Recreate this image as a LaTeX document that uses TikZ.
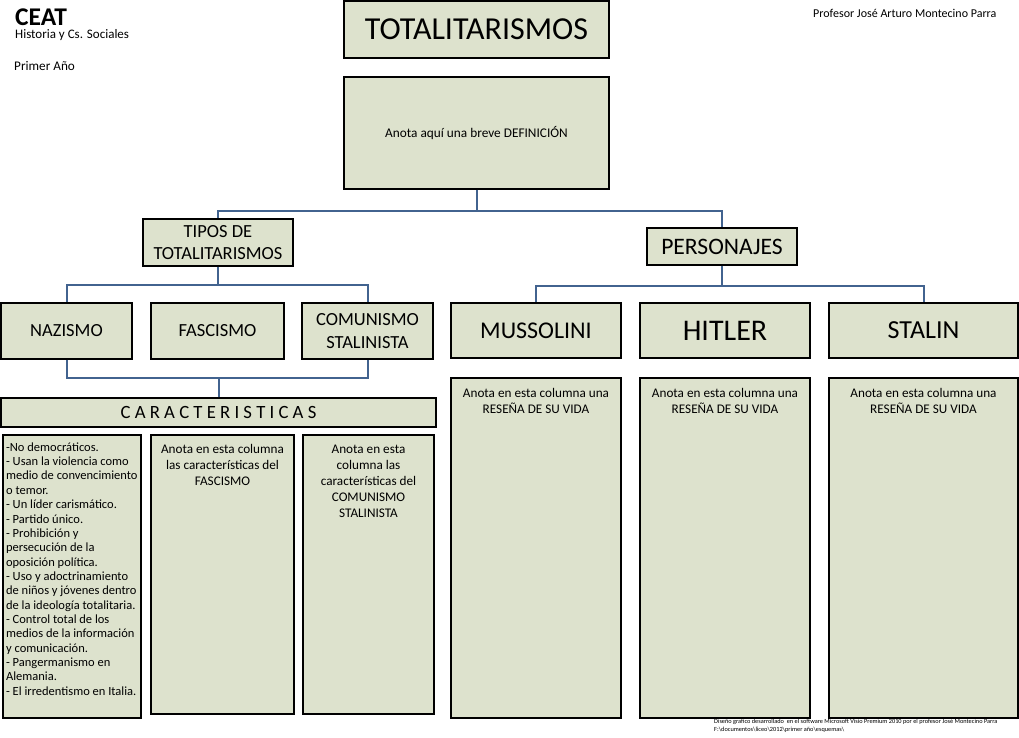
\documentclass[tikz,border=0pt]{standalone}
\usepackage{fontspec}
\setmainfont{Carlito}
\definecolor{boxfill}{RGB}{221,226,205}
\definecolor{connblue}{RGB}{66,99,143}
\newcommand\fsz[1]{\fontsize{#1}{\fpeval{1.22*#1}}\selectfont}
\newcommand\listfnt{\fontsize{12.5}{14.35}\selectfont\setlength{\lineskiplimit}{-100pt}\setlength{\lineskip}{0pt}}
\begin{document}
\begin{tikzpicture}[x=1pt,y=-1pt,
  box/.style={draw=black, line width=1.2pt, fill=boxfill, inner sep=0pt, align=center},
  conn/.style={draw=connblue, line width=2pt},
  coltext/.style={anchor=north, inner sep=0pt, align=center, font=\fsz{13.2}},
  plain/.style={anchor=base west, inner sep=0pt}]
\useasboundingbox (0,0) rectangle (1019,737);

% header texts
\node[plain, font=\bfseries\fsz{25.5}] (ceat) at (15,25.5) {CEAT};
\node[plain, font=\fsz{13}] (hist) at (15,38.5) {Historia y Cs. Sociales};
\node[plain, font=\fsz{13.2}] (prim) at (14,70) {Primer Año};
\node[plain, font=\fsz{12}] (prof) at (813,17) {Profesor José Arturo Montecino Parra};

% main boxes
\node[box, minimum width=265pt, minimum height=57pt, font=\fsz{32}] (title) at (476.5,29.5) {TOTALITARISMOS};
\node[box, minimum width=265pt, minimum height=112pt, font=\fsz{13.3}] (def) at (476.5,133) {Anota aquí una breve DEFINICIÓN};
\node[box, minimum width=150pt, minimum height=47pt, font=\fsz{18.5}] (tipos) at (218,242.5) {TIPOS DE\\TOTALITARISMOS};
\node[box, minimum width=150pt, minimum height=37pt, font=\fsz{23.6}] (pers) at (722,246.5) {PERSONAJES};

\node[box, minimum width=131pt, minimum height=56pt, font=\fsz{18.5}] (naz) at (66.5,331) {NAZISMO};
\node[box, minimum width=133pt, minimum height=56pt, font=\fsz{18.5}] (fas) at (217.5,331) {FASCISMO};
\node[box, minimum width=131pt, minimum height=56pt, font=\fsz{18.5}] (com) at (367.5,331) {COMUNISMO\\STALINISTA};
\node[box, minimum width=435pt, minimum height=29pt, font=\fsz{18.7}] (car) at (218.5,412.5) {C A R A C T E R I S T I C A S};

\node[box, minimum width=170pt, minimum height=55pt, font=\fsz{24}] (mus) at (536,330.5) {MUSSOLINI};
\node[box, minimum width=170pt, minimum height=55pt, font=\fsz{30}] (hit) at (725,330.5) {HITLER};
\node[box, minimum width=189pt, minimum height=55pt, font=\fsz{26}] (sta) at (923.5,330.5) {STALIN};

% columns
\node[box, minimum width=138pt, minimum height=283pt] (list) at (72,576.5) {};
\node[box, minimum width=143pt, minimum height=279pt] (fcol) at (222.5,574.5) {};
\node[box, minimum width=131pt, minimum height=279pt] (ccol) at (368.5,574.5) {};
\node[box, minimum width=170pt, minimum height=340pt] (col1) at (536,548) {};
\node[box, minimum width=170pt, minimum height=340pt] (col2) at (725,548) {};
\node[box, minimum width=189pt, minimum height=340pt] (col3) at (923.5,548) {};

\node[anchor=north west, inner sep=0pt, align=left, font=\listfnt] (listtxt) at ([xshift=3.5pt,yshift=-8pt]list.north west) {-No democráticos.\\
- Usan la violencia como\\
medio de convencimiento\\
o temor.\\
- Un líder carismático.\\
- Partido único.\\
- Prohibición y\\
persecución de la\\
oposición política.\\
- Uso y adoctrinamiento\\
de niños y jóvenes dentro\\
de la ideología totalitaria.\\
- Control total de los\\
medios de la información\\
y comunicación.\\
- Pangermanismo en\\
Alemania.\\
- El irredentismo en Italia.};
\node[coltext] (ftxt) at ([yshift=-10pt]fcol.north) {Anota en esta columna\\las características del\\FASCISMO};
\node[coltext] (ctxt) at ([yshift=-10pt]ccol.north) {Anota en esta\\columna las\\características del\\COMUNISMO\\STALINISTA};
\node[coltext] (t1) at ([yshift=-10.5pt]col1.north) {Anota en esta columna una\\RESEÑA DE SU VIDA};
\node[coltext] (t2) at ([yshift=-10.5pt]col2.north) {Anota en esta columna una\\RESEÑA DE SU VIDA};
\node[coltext] (t3) at ([yshift=-10.5pt]col3.north) {Anota en esta columna una\\RESEÑA DE SU VIDA};

% connectors
\draw[conn] (def.south) -- ++(0,21) coordinate (j1);
\draw[conn] (j1) -| (tipos.north);
\draw[conn] (j1) -| (pers.north);
\draw[conn] (tipos.south) -- ++(0,18) coordinate (j2);
\draw[conn] (j2) -| (naz.north);
\draw[conn] (j2) -| (com.north);
\draw[conn] (naz.south) -- ++(0,18) coordinate (j3) -| (com.south);
\draw[conn] (car.north) -- (car.north |- j3);
\draw[conn] (pers.south) -- ++(0,20) coordinate (j4);
\draw[conn] (j4) -| (mus.north);
\draw[conn] (j4) -| (sta.north);

% footer
\node[plain, font=\fontsize{6.3}{7}\selectfont] (foot1) at (714,723) {Diseño grafico desarrollado\ \ en el software Microsoft Visio Premium 2010 por el profesor José Montecino Parra};
\node[plain, font=\fontsize{6.3}{7}\selectfont] (foot2) at (714,731) {F:\textbackslash documentos\textbackslash liceo\textbackslash 2012\textbackslash primer año\textbackslash esquemas\textbackslash};
\end{tikzpicture}
\end{document}
